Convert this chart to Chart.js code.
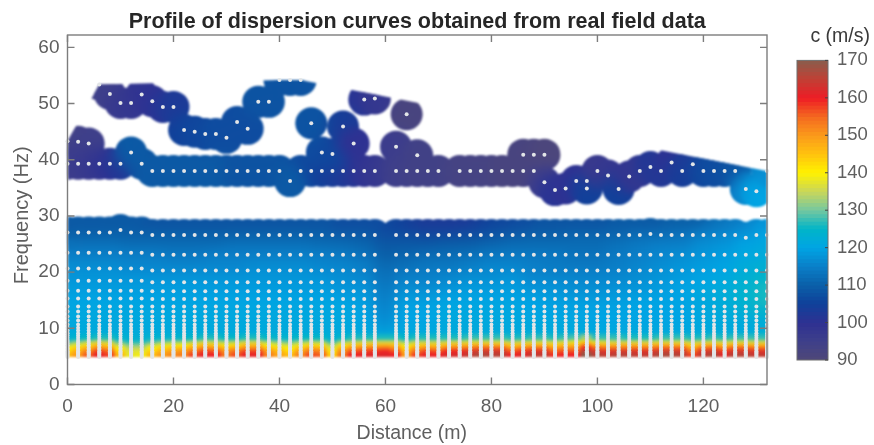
<!DOCTYPE html>
<html>
<head>
<meta charset="utf-8">
<title>Profile of dispersion curves</title>
<script src="https://cdn.jsdelivr.net/npm/chart.js@4"></script>
<style>
  html, body { margin: 0; padding: 0; background: #fff; overflow: hidden; }
  #profile { position: absolute; left: 0; top: 0; }
  #scale { position: absolute; left: 770px; top: 0; }
</style>
</head>
<body>
<canvas id="profile" width="874" height="445"></canvas>
<canvas id="scale" width="100" height="445"></canvas>
<script>
// --- data ---
const titleText = 'Profile of dispersion curves obtained from real field data';
const xTicks = [0, 20, 40, 60, 80, 100, 120];
const yTicks = [0, 10, 20, 30, 40, 50, 60];
const barTicks = [90, 100, 110, 120, 130, 140, 150, 160, 170];

// upper part of the profile: one entry per measured point
const upperX = [0,2,4, 0,2,4,6,8,10,14, 12,
  16,18,20,22,24,26,28,30,32,34,36,38,40,44,46,48,50,52,54,56,58,
  42, 6,8,10,12,14,16,18,20, 22,24,26,28,30,32,34,36,38, 40,42,44, 46,48,50,52,54, 56,58, 64,62,66,
  62,64,66,68,70, 74,76,78,80,82,84,86,88, 86,88,90, 90,92,94,96,98,98,100,102,104,106,108,110,112,114,116,118,120,122,124,126,128,130,132];
const upperF = [43.3,43.2,42.9, 39.3,39.3,39.3,39.3,39.3,39.3,39.3, 41.3,
  38,38,38,38,38,38,38,38,38,38,38,38,38,38,38,38,38,38,38,38,38,
  36.2, 53.4,51.7,50.1,50.1,51.6,50.4,49.4,49.4, 45.3,45,44.6,44.6,43.9,46.7,45.5,50.3,50.3, 54.2,54.2,54.2, 46.5,41.3,41,45.9,42.9, 50.7,50.9, 48.1,42.3,40.8,
  38,38,38,38,38, 38,38,38,38,38,38,38,38, 40.9,40.9,40.9, 36,34.6,34.9,36.2,36.2,34.9,38,37.2,34.8,37,38,38.7,38,39.5,38,39.2,38,38,38,38,34.8,34.4,38];
const upperC = [93,94,95, 96,96,97,98,100,102,108, 109,
  109,109,109,109,109,109,109,109,108,108,108,108,108,107,106,105,104,103,102,100,98,
  109, 94,95,97,98,99,100,101,103, 105,106,106,107,107,107,107,108,108, 108,108,108, 108,107,106,104,100, 101,98, 92,96,94,
  95,95,94,94,94, 93,93,93,93,92,92,92,92, 92,92,91, 96,101,100,100,100,105,97,98,105,99,98,102,102,100,104,103,106,107,107,108,115,120,117];

// top row of the lower part, x = 0, 2, ... 132 (no point at x = 60)
const topRowF = [27.05,27.05,27.05,27.05,27.05,27.5,27.05,27.05,26.6,26.6,26.6,26.6,26.6,26.6,26.6,26.6,26.6,26.6,26.6,26.6,26.6,26.6,26.6,26.6,26.6,26.6,26.6,26.6,26.6,26.6,null,26.6,26.6,26.6,26.6,26.6,26.6,26.6,26.6,26.6,26.6,26.6,26.6,26.6,26.6,26.6,26.6,26.6,26.6,26.6,26.6,26.6,26.6,26.6,26.6,26.8,26.6,26.6,26.6,26.6,26.6,26.6,26.6,26.6,26.1,26.6,26.6];
const topRowC = [109,109,109,109,109,109,109,109,108,108,108,108,108,108,108,108,108,108,108,108,108,108,108,108,108,108,107,107,107,107,107,106,105,104,103,103,103,103,103,104,105,106,106,107,107,108,108,108,108,108,108,108,109,109,109,109,109,110,110,110,110,112,113,114,115,116,118];

// dot rows of the lower part, left columns sit a little higher
const rowsLeft = [23.45, 20.65, 18.47, 16.7, 15.3];
const rowsRight = [23.1, 20.3, 18.2, 16.6, 15.2];
const rowsDense = [13.9,13,12.1,11.4,10.7,10.1,9.6,9.1,8.7,8.3,7.9,7.6,7.3,7,6.7,6.4,6.2,5.9,5.7,5.5,5.3,5.1,4.9];

// velocity field above the hot band, x = 0, 4, ... 132
const blueEdges = [8, 10, 12, 14, 16, 18, 20, 22, 24, 26, 27.4];
const blue8  = [122,122,122,122,122,122,122,122,122,122,122,122,122,122,122,121,122,122,122,122,122,122,122,122,122,122,122,122,122,122,122,122,122,123];
const blue10 = [121,121,121,121,121,121,121,121,121,121,121,121,121,121,120,117,120,120,121,121,121,121,121,121,121,120,120,120,120,120,121,121,121,122];
const blue12 = [121,121,121,121,121,121,121,121,121,121,121,121,121,121,120,116,120,120,121,121,121,121,120,120,120,120,120,120,120,120,121,122,123,124];
const blue14 = [120,120,120,120,120,120,120,120,120,120,120,120,120,120,119,115,119,119,120,120,120,120,120,119,119,119,119,120,120,120,121,122,124,126];
const blue16 = [119,119,119,119,119,119,119,119,119,119,119,119,119,118,118,114,117,117,118,119,119,119,118,118,117,117,118,118,119,120,121,122,124,126];
const blue18 = [118,118,118,118,118,118,118,118,118,118,118,118,118,117,116,113,115,115,116,117,117,118,116,116,116,116,116,117,118,119,120,121,123,125];
const blue20 = [117,117,117,116,116,116,116,116,116,117,117,117,116,116,115,112,113,114,114,115,116,116,115,114,114,114,115,116,117,118,119,120,122,123];
const blue22 = [115,115,115,115,115,114,114,115,115,115,115,115,115,114,113,110,111,112,112,113,114,114,114,114,113,113,114,115,116,117,118,119,121,122];
const blue24 = [113,113,113,112,112,112,112,112,113,113,113,113,112,112,111,109,109,109,110,110,111,112,112,112,112,112,113,114,115,115,117,118,120,121];
const blue26 = [110,110,110,110,110,110,110,110,110,110,110,110,110,109,109,107,107,106,106,107,108,109,110,110,111,111,111,112,112,113,115,116,118,120];

// hot band at the bottom, x = 0, 2, ... 132
const hotEdges = [4.9, 5.6, 6.2, 6.8, 7.4, 8, 8.8];
const hot1 = [146,150,156,161,158,146,138,139,146,150,152,153,158,161,160,154,157,161,161,153,149,146,152,157,156,144,154,160,161,162,162,160,150,158,161,160,163,163,165,167,166,166,160,162,165,165,159,160,160,170,166,165,166,166,165,165,167,167,166,158,165,167,162,166,166,165,165];
const hot2 = [144,148,153,158,156,144,137,138,144,148,150,151,155,158,157,152,155,158,158,151,147,144,150,154,153,142,152,157,158,159,160,157,148,155,158,157,160,160,162,164,163,163,157,159,162,162,156,157,157,167,163,162,163,163,162,162,164,164,163,155,162,164,159,163,163,162,162];
const hot3 = [140,144,148,152,150,140,135,135,140,143,145,146,149,152,151,147,149,152,152,146,143,140,145,149,148,138,147,151,153,154,155,152,144,150,152,151,154,154,155,156,156,156,151,153,155,155,151,152,152,160,156,155,155,155,155,155,156,156,156,150,155,156,153,156,156,155,155];
const hot4 = [135,138,142,145,143,135,131,131,135,138,139,140,143,145,144,141,142,145,145,140,138,136,139,142,141,134,141,144,145,146,146,145,139,143,144,144,145,146,146,147,147,147,144,145,146,146,144,145,146,153,147,146,146,146,146,146,147,147,147,143,146,147,145,147,147,146,146];
const hot5 = [128,130,133,135,134,128,126,126,128,130,131,131,133,135,134,132,133,135,135,132,130,129,131,133,132,127,132,134,135,135,135,135,131,134,134,134,135,135,136,136,136,136,134,135,136,136,135,136,138,143,137,136,135,135,135,135,136,136,136,134,135,136,135,136,136,135,135];
const hot6 = [123,124,125,126,126,124,123,123,124,124,124,125,125,126,126,125,125,126,126,125,124,124,125,125,125,123,125,126,126,126,126,126,125,126,126,126,126,126,127,127,127,127,126,126,127,127,126,127,128,132,127,127,127,126,126,126,127,127,127,126,126,127,126,127,127,127,127];

// convex outline of the measured points
const hullX = [0, 6, 40, 44, 132, 132, 0];
const hullF = [43.3, 53.4, 54.2, 54.2, 38, 4.9, 4.9];

// colour map as seen on the colour bar
const stopC = [90,95,100,105,110,115,120,125,130,135,140,145,150,155,160,165,170];
const stopRGB = [[79,72,120],[62,63,138],[46,49,146],[16,64,154],[10,95,168],[10,127,200],[0,164,228],[0,181,200],[116,199,160],[201,214,90],[255,242,0],[255,194,14],[251,154,27],[244,105,31],[238,28,37],[192,64,53],[138,93,76]];

function colorOf(c) {
  let i = 0;
  while (i < stopC.length - 2 && c > stopC[i + 1]) i++;
  const t = Math.min(1, Math.max(0, (c - stopC[i]) / (stopC[i + 1] - stopC[i])));
  const rgb = stopRGB[i].map((v, k) => Math.round(v + (stopRGB[i + 1][k] - v) * t));
  return `rgb(${rgb[0]},${rgb[1]},${rgb[2]})`;
}

// --- build the datasets from the arrays ---
const blobs = [];
const dots = [];
upperX.forEach((x, i) => {
  blobs.push({ x: x, y: upperF[i], c: upperC[i] });
  dots.push({ x: x, y: upperF[i] });
});
topRowF.forEach((f, i) => {
  if (f === null) return;
  const x = i * 2;
  blobs.push({ x: x, y: f, c: topRowC[i] });
  dots.push({ x: x, y: f });
  (x <= 14 ? rowsLeft : rowsRight).concat(rowsDense).forEach(r => dots.push({ x: x, y: r }));
});

const blueCells = [];
[blue8, blue10, blue12, blue14, blue16, blue18, blue20, blue22, blue24, blue26].forEach((row, r) => {
  row.forEach((c, i) => blueCells.push({ x: i * 4, y: [blueEdges[r], blueEdges[r + 1] + 0.1], c: c }));
});
const hotCells = [];
[hot1, hot2, hot3, hot4, hot5, hot6].forEach((row, r) => {
  row.forEach((c, i) => hotCells.push({ x: i * 2, y: [hotEdges[r], hotEdges[r + 1] + 0.1], c: c }));
});

// --- drawing helpers ---
const DOTS = 0, HOT = 1, BLUE = 2, BLOBS = 3;

function clipHull(chart) {
  const ctx = chart.ctx;
  ctx.save();
  ctx.beginPath();
  hullX.forEach((x, i) => {
    const px = chart.scales.x.getPixelForValue(x);
    const py = chart.scales.y.getPixelForValue(hullF[i]);
    if (i === 0) ctx.moveTo(px, py); else ctx.lineTo(px, py);
  });
  ctx.closePath();
  ctx.clip();
}

// smooth colours inside the already painted shape, keeps the outline sharp
function smooth(chart, blur, atop) {
  const ctx = chart.ctx, a = chart.chartArea, cv = chart.canvas;
  const tmp = document.createElement('canvas');
  tmp.width = cv.width;
  tmp.height = cv.height;
  const w = a.width + 4, h = a.height + 4, l = a.left - 2, t = a.top - 2;
  tmp.getContext('2d').drawImage(cv, l, t, w, h, l, t, w, h);
  ctx.save();
  ctx.beginPath();
  ctx.rect(l, t, w, h);
  ctx.clip();
  if (atop) ctx.globalCompositeOperation = 'source-atop';
  else ctx.clearRect(l, t, w, h);
  ctx.filter = `blur(${blur}px)`;
  ctx.drawImage(tmp, 0, 0);
  ctx.restore();
}

const fieldPlugin = {
  id: 'field',
  beforeDatasetDraw(chart, args) {
    if (args.index !== DOTS) clipHull(chart);
    else { chart.ctx.save(); chart.ctx.filter = 'blur(0.5px)'; }
  },
  afterDatasetDraw(chart, args) {
    chart.ctx.restore();
    if (args.index === BLUE) smooth(chart, 7, true);
    if (args.index === HOT) { smooth(chart, 1.6, true); smooth(chart, 0.8, false); }
  }
};

// box with inward ticks on all four sides
const framePlugin = {
  id: 'frame',
  afterDraw(chart) {
    const ctx = chart.ctx, a = chart.chartArea, len = 7;
    ctx.save();
    ctx.strokeStyle = '#7d7d7d';
    ctx.lineWidth = 1.4;
    ctx.strokeRect(a.left, a.top, a.width, a.height);
    ctx.beginPath();
    xTicks.forEach(v => {
      const px = chart.scales.x.getPixelForValue(v);
      ctx.moveTo(px, a.bottom); ctx.lineTo(px, a.bottom - len);
      ctx.moveTo(px, a.top); ctx.lineTo(px, a.top + len);
    });
    yTicks.forEach(v => {
      const py = chart.scales.y.getPixelForValue(v);
      ctx.moveTo(a.left, py); ctx.lineTo(a.left + len, py);
      ctx.moveTo(a.right, py); ctx.lineTo(a.right - len, py);
    });
    ctx.stroke();
    ctx.restore();
  }
};

const grey = '#5f5f5f';
const family = '"Liberation Sans", Arial, sans-serif';

new Chart(document.getElementById('profile'), {
  type: 'bar',
  data: {
    datasets: [
      { type: 'scatter', data: dots, pointRadius: 2, pointBackgroundColor: '#e2e5e7', pointBorderWidth: 0, clip: false },
      { type: 'bar', data: hotCells, grouped: false, barThickness: 11.4, borderWidth: 0,
        backgroundColor: hotCells.map(p => colorOf(p.c)) },
      { type: 'bar', data: blueCells, grouped: false, barThickness: 22, borderWidth: 0,
        backgroundColor: blueCells.map(p => colorOf(p.c)) },
      { type: 'scatter', data: blobs, pointRadius: 16, pointBorderWidth: 0,
        pointBackgroundColor: blobs.map(p => colorOf(p.c)) }
    ]
  },
  options: {
    responsive: false,
    animation: false,
    events: [],
    layout: { padding: { left: 0, right: 107, top: 0, bottom: 0 } },
    plugins: {
      legend: { display: false },
      tooltip: { enabled: false },
      title: {
        display: true,
        fullSize: false,
        text: titleText,
        color: '#262626',
        font: { family: family, size: 21.5, weight: 'bold' },
        padding: { top: 9, bottom: 0.2 }
      }
    },
    scales: {
      x: {
        type: 'linear', min: 0, max: 132, offset: false,
        grid: { display: false, drawTicks: false },
        border: { display: false },
        ticks: { stepSize: 20, includeBounds: false, color: grey, padding: 11, maxRotation: 0,
          font: { family: family, size: 19 } },
        title: { display: true, text: 'Distance (m)  ', color: grey, padding: { top: 6, bottom: 0 },
          font: { family: family, size: 19.5 } },
        afterFit(scale) { scale.height = 60.5; }
      },
      y: {
        type: 'linear', min: 0, max: 62.2,
        grid: { display: false, drawTicks: false },
        border: { display: false },
        ticks: { stepSize: 10, includeBounds: false, color: grey, padding: 8,
          font: { family: family, size: 19 } },
        title: { display: true, text: 'Frequency (Hz)  ', color: grey, padding: { top: 10, bottom: 0 },
          font: { family: family, size: 20 } },
        afterFit(scale) { scale.width = 67.5; }
      }
    }
  },
  plugins: [fieldPlugin, framePlugin]
});

// colour bar, one thin bar per m/s
const barLevels = [];
for (let c = barTicks[0]; c < barTicks[barTicks.length - 1]; c++) barLevels.push(c);

const barTickPlugin = {
  id: 'barTicks',
  afterDraw(chart) {
    const ctx = chart.ctx, a = chart.chartArea;
    ctx.save();
    ctx.strokeStyle = '#6e6e6e';
    ctx.lineWidth = 1;
    ctx.strokeRect(a.left, a.top, a.width, a.height);
    ctx.strokeStyle = '#444';
    ctx.beginPath();
    barTicks.forEach(v => {
      const py = chart.scales.y.getPixelForValue(v);
      ctx.moveTo(a.right, py); ctx.lineTo(a.right - 3, py);
    });
    ctx.stroke();
    ctx.restore();
  }
};

new Chart(document.getElementById('scale'), {
  type: 'bar',
  data: {
    datasets: [{
      data: barLevels.map(c => ({ x: 0, y: [c, c + 1.05] })),
      backgroundColor: barLevels.map(c => colorOf(c + 0.5)),
      barThickness: 31,
      borderWidth: 0
    }]
  },
  options: {
    responsive: false,
    animation: false,
    events: [],
    layout: { padding: { left: 27, right: 0, top: 0, bottom: 85 } },
    plugins: {
      legend: { display: false },
      tooltip: { enabled: false },
      title: {
        display: true,
        text: 'c (m/s)',
        align: 'end',
        color: '#3a3a3a',
        font: { family: family, size: 19.5, weight: 'normal' },
        padding: { top: 25, bottom: 12 }
      }
    },
    scales: {
      x: { type: 'linear', min: -1, max: 1, offset: false, display: false },
      y: {
        type: 'linear', position: 'right', min: 90, max: 170,
        grid: { display: false, drawTicks: false },
        border: { display: false },
        ticks: { stepSize: 10, color: grey, padding: 9, font: { family: family, size: 18.5 } },
        afterFit(scale) { scale.width = 42; }
      }
    }
  },
  plugins: [barTickPlugin]
});
</script>
</body>
</html>
